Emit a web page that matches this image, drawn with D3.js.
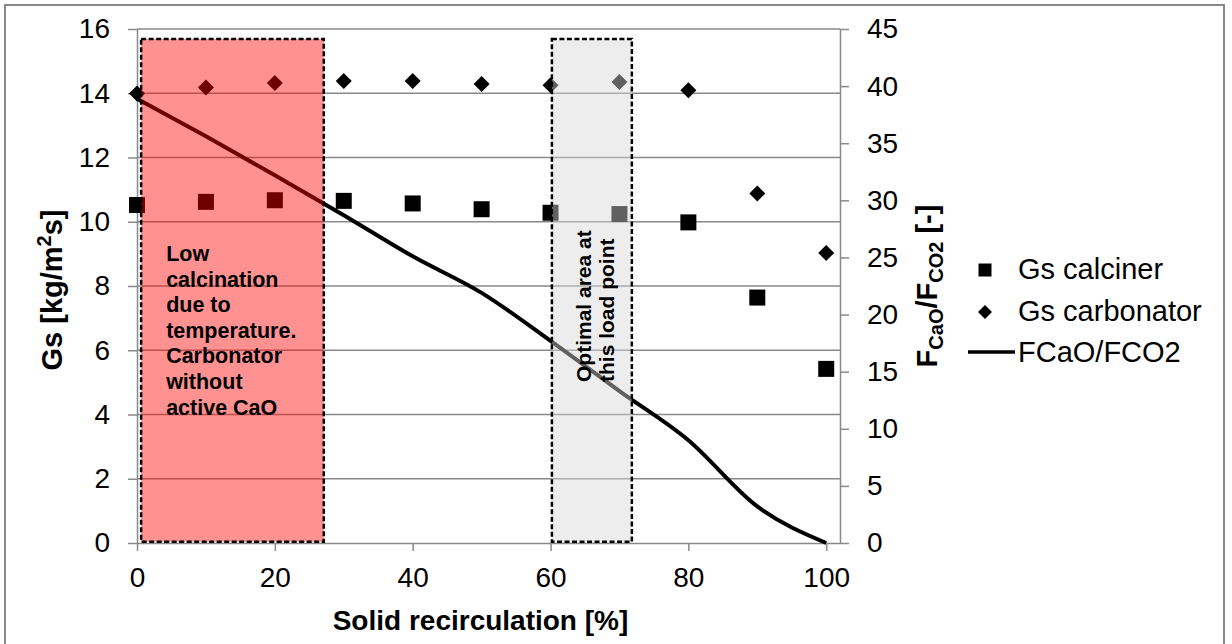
<!DOCTYPE html>
<html>
<head>
<meta charset="utf-8">
<script src="https://cdn.jsdelivr.net/npm/d3@7"></script>
<style>
  body { margin: 0; background: #fff; }
  text { font-family: "Liberation Sans", Arial, sans-serif; }
</style>
</head>
<body>
<div id="chart"></div>
<script>
// values
const recirculation = [0, 10, 20, 30, 40, 50, 60, 70, 80, 90, 100];
const gsCalciner = [10.52, 10.62, 10.67, 10.65, 10.57, 10.39, 10.28, 10.24, 9.98, 7.64, 5.42];
const gsCarbonator = [13.99, 14.18, 14.32, 14.38, 14.38, 14.29, 14.25, 14.35, 14.09, 10.88, 9.03];
const fRatio = [38.9, 35.6, 32.2, 28.7, 25.1, 21.9, 17.7, 13.3, 9.0, 3.2, 0];

const xTicks = [0, 20, 40, 60, 80, 100];
const leftTicks = [0, 2, 4, 6, 8, 10, 12, 14, 16];
const rightTicks = [0, 5, 10, 15, 20, 25, 30, 35, 40, 45];

const seriesNames = ['Gs calciner', 'Gs carbonator', 'FCaO/FCO2'];
const lowCalcText = ['Low', 'calcination', 'due to', 'temperature.', 'Carbonator', 'without', 'active CaO'];
const optimalText = ['Optimal area at', 'this load point'];

// highlighted ranges [x0, x1] on the recirculation axis, top on the Gs axis
const lowCalcRange = [0.6, 27.1];
const optimalRange = [60.2, 71.8];
const rangeTop = 15.69;

function chart() {
  const width = 1232, height = 644,
    left = 137, right = 840, top = 29, bottom = 543,
    grey = '#898989';

  const x = d3.scaleLinear().domain([0, 102]).range([left, right]);
  const yL = d3.scaleLinear().domain([0, 16]).range([bottom, top]);
  const yR = d3.scaleLinear().domain([0, 45]).range([bottom, top]);

  const svg = d3.select('#chart').append('svg')
    .attr('width', width)
    .attr('height', height)
    .attr('viewBox', [0, 0, width, height]);

  svg.append('rect')
    .attr('x', 5).attr('y', 5)
    .attr('width', 1219).attr('height', 645)
    .attr('fill', '#fff')
    .attr('stroke', grey)
    .attr('stroke-width', 2);

  // gridlines
  svg.append('g')
    .selectAll('line')
    .data(leftTicks.filter(d => d > 0))
    .join('line')
    .attr('x1', left).attr('x2', right)
    .attr('y1', d => yL(d)).attr('y2', d => yL(d))
    .attr('stroke', grey)
    .attr('stroke-width', 1.5);

  const styleAxis = g => {
    g.selectAll('.domain').attr('stroke', grey).attr('stroke-width', 1.5);
    g.selectAll('.tick line').attr('stroke', grey).attr('stroke-width', 1.5);
    g.selectAll('.tick text')
      .attr('fill', '#000')
      .style('font-family', '"Liberation Sans", Arial, sans-serif')
      .style('font-size', '28px');
  };

  svg.append('g')
    .attr('transform', `translate(${left},0)`)
    .call(d3.axisLeft(yL).tickValues(leftTicks).tickSize(9).tickSizeOuter(0).tickPadding(18))
    .call(styleAxis);

  svg.append('g')
    .attr('transform', `translate(${right},0)`)
    .call(d3.axisRight(yR).tickValues(rightTicks).tickSize(9).tickSizeOuter(0).tickPadding(18))
    .call(styleAxis);

  svg.append('g')
    .attr('transform', `translate(0,${bottom})`)
    .call(d3.axisBottom(x).tickValues(xTicks).tickSize(8).tickSizeOuter(0).tickPadding(16))
    .call(styleAxis);

  // axis titles
  const lt = svg.append('text')
    .attr('transform', `translate(62,${(top + bottom) / 2 + 4}) rotate(-90)`)
    .attr('text-anchor', 'middle')
    .attr('font-weight', 'bold')
    .attr('font-size', 29);
  lt.append('tspan').text('Gs [kg/m');
  lt.append('tspan').attr('font-size', 20).attr('dy', -11).text('2');
  lt.append('tspan').attr('dy', 11).text('s]');

  svg.append('text')
    .attr('x', (left + right) / 2 - 8)
    .attr('y', 630)
    .attr('text-anchor', 'middle')
    .attr('font-weight', 'bold')
    .attr('font-size', 28)
    .text('Solid recirculation [%]');

  const rt = svg.append('text')
    .attr('transform', `translate(937,${(top + bottom) / 2}) rotate(-90)`)
    .attr('text-anchor', 'middle')
    .attr('font-weight', 'bold')
    .attr('font-size', 29);
  rt.append('tspan').text('F');
  rt.append('tspan').attr('font-size', 20).attr('dy', 6).text('CaO');
  rt.append('tspan').attr('dy', -6).text('/F');
  rt.append('tspan').attr('font-size', 20).attr('dy', 6).text('CO2');
  rt.append('tspan').attr('dy', -6).text(' [-]');

  // FCaO/FCO2 line
  const line = d3.line()
    .x((d, i) => x(recirculation[i]))
    .y(d => yR(d))
    .curve(d3.curveMonotoneX);

  svg.append('path')
    .datum(fRatio)
    .attr('fill', 'none')
    .attr('stroke', '#000')
    .attr('stroke-width', 4)
    .attr('d', line);

  svg.append('g')
    .selectAll('path')
    .data(gsCalciner)
    .join('path')
    .attr('transform', (d, i) => `translate(${x(recirculation[i])},${yL(d)})`)
    .attr('d', d3.symbol(d3.symbolSquare, 256)());

  svg.append('g')
    .selectAll('path')
    .data(gsCarbonator)
    .join('path')
    .attr('transform', (d, i) => `translate(${x(recirculation[i])},${yL(d)}) rotate(45)`)
    .attr('d', d3.symbol(d3.symbolSquare, 128)());

  // highlighted areas (drawn over the marks, semi transparent)
  const box = (range, fill, opacity) => svg.append('rect')
    .attr('x', x(range[0]))
    .attr('y', yL(rangeTop))
    .attr('width', x(range[1]) - x(range[0]))
    .attr('height', yL(0.04) - yL(rangeTop))
    .attr('fill', fill)
    .attr('fill-opacity', opacity)
    .attr('stroke', '#000')
    .attr('stroke-width', 2.5)
    .attr('stroke-dasharray', '5,2.5');

  box(lowCalcRange, '#ff0000', 0.43);
  box(optimalRange, '#d7d7d7', 0.45);

  svg.append('g')
    .selectAll('text')
    .data(lowCalcText)
    .join('text')
    .attr('x', x(lowCalcRange[0]) + 25)
    .attr('y', (d, i) => 261 + i * 25.6)
    .attr('font-weight', 'bold')
    .attr('font-size', 21.5)
    .text(d => d);

  svg.append('g')
    .selectAll('text')
    .data(optimalText)
    .join('text')
    .attr('transform', (d, i) => `translate(${591 + i * 23},382) rotate(-90)`)
    .attr('font-weight', 'bold')
    .attr('font-size', 21)
    .text(d => d);

  // legend
  const lg = svg.append('g');
  const rows = [279, 321, 362];
  lg.append('path')
    .attr('transform', `translate(985,${rows[0] - 9})`)
    .attr('d', d3.symbol(d3.symbolSquare, 169)());
  lg.append('path')
    .attr('transform', `translate(985,${rows[1] - 9}) rotate(45)`)
    .attr('d', d3.symbol(d3.symbolSquare, 98)());
  lg.append('line')
    .attr('x1', 968).attr('x2', 1015)
    .attr('y1', rows[2] - 10).attr('y2', rows[2] - 10)
    .attr('stroke', '#000')
    .attr('stroke-width', 3.5);
  lg.selectAll('text')
    .data(seriesNames)
    .join('text')
    .attr('x', 1018)
    .attr('y', (d, i) => rows[i])
    .attr('font-size', 29)
    .text(d => d);
}

chart();
</script>
</body>
</html>
